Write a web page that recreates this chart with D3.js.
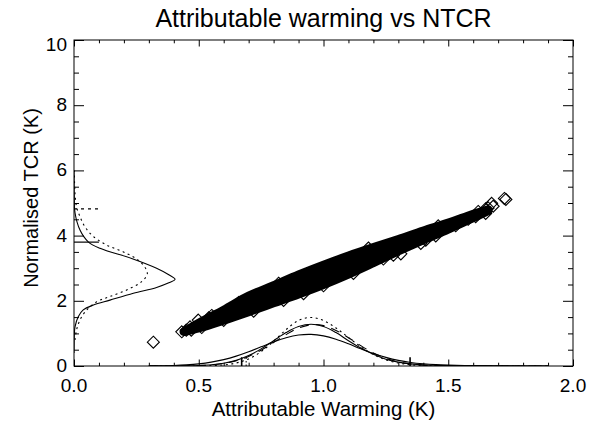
<!DOCTYPE html>
<html><head><meta charset="utf-8">
<script src="https://cdn.jsdelivr.net/npm/d3@7"></script>
<style>
body{margin:0;background:#fff}
svg{display:block}
text{font-family:"Liberation Sans",Arial,Helvetica,sans-serif;fill:#000}
</style></head>
<body><svg id="c" width="592" height="422"></svg>
<script>
// ---------- data ----------
const title = "Attributable warming vs NTCR";
const xTitle = "Attributable Warming (K)";
const yTitle = "Normalised TCR (K)";
const xTicks = [0, 0.5, 1.0, 1.5, 2.0];
const xMinor = [0.1,0.2,0.3,0.4,0.6,0.7,0.8,0.9,1.1,1.2,1.3,1.4,1.6,1.7,1.8,1.9];
const yTicks = [0, 2, 4, 6, 8, 10];
const yMinor = [0.5,1,1.5,2.5,3,3.5,4.5,5,5.5,6.5,7,7.5,8.5,9,9.5];

// dense scatter cloud: lower / upper envelope of marker centres
const cloudX    = [0.44,0.50,0.60,0.70,0.80,0.90,1.00,1.10,1.20,1.30,1.40,1.50,1.60,1.66];
const cloudLow  = [1.05,1.16,1.40,1.66,1.93,2.20,2.49,2.81,3.16,3.52,3.86,4.19,4.54,4.76];
const cloudHigh = [1.05,1.32,1.72,2.15,2.47,2.80,3.10,3.38,3.64,3.89,4.15,4.39,4.66,4.80];

// individually visible diamonds (edges, stragglers, outliers)
const ptX = [0.54,0.66,0.82,1.18,1.46,1.62,1.65,
             0.47,0.60,0.72,0.84,0.92,1.00,1.12,1.24,1.28,1.31,1.39,1.41,1.45,1.53,1.58,1.61,1.65,
             0.432,0.465,0.512,0.498,0.552,0.45,1.674,1.66,1.68,0.318,1.731,1.725];
const ptY = [1.48,1.95,2.54,3.62,4.30,4.74,4.82,
             1.10,1.40,1.68,2.01,2.22,2.46,2.84,3.28,3.40,3.44,3.76,3.86,3.99,4.30,4.50,4.58,4.68,
             1.05,1.20,1.18,1.41,1.55,1.10,4.99,4.85,4.90,0.73,5.11,5.14];

// distributions of attributable warming (drawn along the bottom)
const bottomX    = [0.30,0.35,0.40,0.45,0.50,0.55,0.60,0.65,0.70,0.75,0.80,0.85,0.90,0.95,1.00,1.05,1.10,1.15,1.20,1.25,1.30,1.35,1.40,1.45,1.50,1.60,1.70,1.80,1.90];
const warmWide   = [0.003,0.008,0.017,0.035,0.066,0.118,0.196,0.303,0.437,0.588,0.739,0.867,0.949,0.969,0.923,0.820,0.680,0.527,0.385,0.265,0.172,0.108,0.068,0.042,0.028,0.012,0.005,0.002,0.001];
const warmMid    = [0,0.001,0.002,0.005,0.014,0.036,0.084,0.173,0.319,0.526,0.776,1.025,1.211,1.280,1.211,1.025,0.776,0.550,0.360,0.210,0.120,0.065,0.035,0.020,0.010,0.003,0.001,0,0];
const warmDashed = [0,0,0.001,0.004,0.014,0.035,0.079,0.161,0.294,0.485,0.720,0.964,1.163,1.264,1.238,1.092,0.869,0.622,0.402,0.234,0.123,0.058,0.025,0.010,0.004,0.001,0,0,0];
const warmDotted = [0,0,0,0,0.003,0.010,0.033,0.092,0.218,0.441,0.760,1.116,1.396,1.490,1.393,1.166,0.873,0.586,0.351,0.189,0.091,0.039,0.015,0.005,0.002,0,0,0,0];
const warmSolidMarks = [0.672, 1.347];
const warmDottedMarks = [0.69];
const warmMarkHeight = 0.27;

// distributions of TCR (drawn along the left side)
const tcrSolidY = [0.40,0.90,1.20,1.51,1.72,1.87,2.02,2.23,2.41,2.55,2.66,2.80,3.00,3.30,3.61,3.81,4.17,4.70,5.20,6.00];
const tcrSolidD = [0,0.001,0.004,0.017,0.037,0.078,0.144,0.238,0.331,0.380,0.405,0.380,0.331,0.231,0.104,0.057,0.024,0.004,0.001,0];
const tcrDotY   = [0.80,1.10,1.41,1.72,1.97,2.13,2.33,2.59,2.84,3.20,3.50,3.71,3.97,4.27,4.58,4.89,5.30,6.00];
const tcrDotD   = [0.004,0.010,0.024,0.051,0.091,0.144,0.211,0.271,0.294,0.265,0.198,0.131,0.078,0.044,0.024,0.010,0.004,0.001];
const tcrSolidMarks = [3.80];
const tcrDottedMarks = [4.82];
const tcrMarkLength = 0.1;

// ---------- drawing ----------
const svg = d3.select("#c");
const L = 74, R = 573, T = 40, B = 366;
const x = d3.scaleLinear().domain([0, 2]).range([L, R]);
const y = d3.scaleLinear().domain([0, 10]).range([B, T]);
const DOT = "2,3.5", DASH = "9,7";

svg.append("clipPath").attr("id", "plotclip").append("rect")
  .attr("x", L).attr("y", T).attr("width", R - L).attr("height", B - T);
const g = svg.append("g").attr("clip-path", "url(#plotclip)");

// cloud
const cloud = cloudX.map((v, i) => ({x: v, lo: cloudLow[i], hi: cloudHigh[i]}));
g.append("path").datum(cloud)
  .attr("d", d3.area().x(d => x(d.x)).y0(d => y(d.lo)).y1(d => y(d.hi)).curve(d3.curveCatmullRom))
  .attr("fill", "#000").attr("stroke", "#000").attr("stroke-width", 8.5).attr("stroke-linejoin", "round");

const s = 6;
const diamond = `M0,${-s}L${s},0L0,${s}L${-s},0Z`;
g.append("g").selectAll("path").data(ptX.map((v, i) => [v, ptY[i]])).join("path")
  .attr("d", diamond)
  .attr("transform", d => `translate(${x(d[0])},${y(d[1])})`)
  .attr("fill", "none").attr("stroke", "#000").attr("stroke-width", 1.1);

// bottom distributions
const lineB = d3.line().x(d => x(d[0])).y(d => y(d[1])).curve(d3.curveCatmullRom);
function bottomCurve(vals, dash) {
  g.append("path").datum(bottomX.map((v, i) => [v, vals[i]]))
    .attr("d", lineB).attr("fill", "none").attr("stroke", "#000").attr("stroke-width", 1.1)
    .attr("stroke-dasharray", dash);
}
bottomCurve(warmWide, null);
bottomCurve(warmMid, null);
bottomCurve(warmDashed, DASH);
bottomCurve(warmDotted, DOT);

g.selectAll(".wm").data(warmSolidMarks).join("line")
  .attr("x1", d => x(d)).attr("x2", d => x(d)).attr("y1", y(0)).attr("y2", y(warmMarkHeight))
  .attr("stroke", "#000").attr("stroke-width", 1.6);
g.selectAll(".wd").data(warmDottedMarks).join("line")
  .attr("x1", d => x(d)).attr("x2", d => x(d)).attr("y1", y(0)).attr("y2", y(warmMarkHeight))
  .attr("stroke", "#000").attr("stroke-width", 1).attr("stroke-dasharray", "1.5,2");

// left distributions
const lineL = d3.line().x(d => x(d[0])).y(d => y(d[1])).curve(d3.curveCatmullRom);
g.append("path").datum(tcrSolidY.map((v, i) => [tcrSolidD[i], v]))
  .attr("d", lineL).attr("fill", "none").attr("stroke", "#000").attr("stroke-width", 1.1);
g.append("path").datum(tcrDotY.map((v, i) => [tcrDotD[i], v]))
  .attr("d", lineL).attr("fill", "none").attr("stroke", "#000").attr("stroke-width", 1.1)
  .attr("stroke-dasharray", DOT);
g.selectAll(".tm").data(tcrSolidMarks).join("line")
  .attr("x1", x(0)).attr("x2", x(tcrMarkLength)).attr("y1", d => y(d)).attr("y2", d => y(d))
  .attr("stroke", "#000").attr("stroke-width", 1.2);
g.selectAll(".td").data(tcrDottedMarks).join("line")
  .attr("x1", x(0)).attr("x2", x(tcrMarkLength)).attr("y1", d => y(d)).attr("y2", d => y(d))
  .attr("stroke", "#000").attr("stroke-width", 1.1).attr("stroke-dasharray", "3,4");

// axes (ticks point inward on all four sides)
function axisTicks(axis, transform) {
  const a = svg.append("g").attr("transform", transform).call(axis);
  a.select(".domain").remove();
  a.selectAll("text").remove();
  a.selectAll("line").attr("stroke", "#000").attr("stroke-width", 1);
}
axisTicks(d3.axisBottom(x).tickValues(xTicks).tickSize(-6.5), `translate(0,${B})`);
axisTicks(d3.axisBottom(x).tickValues(xMinor).tickSize(-3.3), `translate(0,${B})`);
axisTicks(d3.axisTop(x).tickValues(xTicks).tickSize(-6.5), `translate(0,${T})`);
axisTicks(d3.axisTop(x).tickValues(xMinor).tickSize(-3.3), `translate(0,${T})`);
axisTicks(d3.axisLeft(y).tickValues(yTicks).tickSize(-10), `translate(${L},0)`);
axisTicks(d3.axisLeft(y).tickValues(yMinor).tickSize(-5), `translate(${L},0)`);
axisTicks(d3.axisRight(y).tickValues(yTicks).tickSize(-10), `translate(${R},0)`);
axisTicks(d3.axisRight(y).tickValues(yMinor).tickSize(-5), `translate(${R},0)`);

svg.append("rect").attr("x", L).attr("y", T).attr("width", R - L).attr("height", B - T)
  .attr("fill", "none").attr("stroke", "#000").attr("stroke-width", 1);

// tick labels
svg.append("g").selectAll("text").data(xTicks).join("text")
  .attr("x", d => x(d)).attr("y", B + 26).attr("text-anchor", "middle")
  .attr("font-size", 19).text(d3.format(".1f"));
svg.append("g").selectAll("text").data(yTicks).join("text")
  .attr("x", L - 7).attr("y", d => y(d) + (d === 10 ? 11 : 6)).attr("text-anchor", "end")
  .attr("font-size", 19).text(d => d);

// titles
svg.append("text").attr("x", (L + R) / 2).attr("y", 27).attr("text-anchor", "middle")
  .attr("font-size", 25).text(title);
svg.append("text").attr("x", (L + R) / 2).attr("y", 416).attr("text-anchor", "middle")
  .attr("font-size", 20.5).text(xTitle);
svg.append("text").attr("transform", `translate(38,${(T + B) / 2 - 5}) rotate(-90)`)
  .attr("text-anchor", "middle").attr("font-size", 20).text(yTitle);
</script>
</body></html>
